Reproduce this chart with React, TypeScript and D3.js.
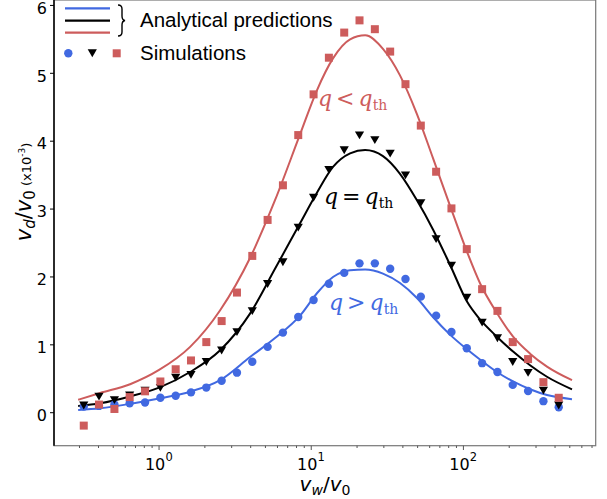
import React from "react";
import * as d3 from "d3";

// simulation abscissae (v_w / v_0)
const simX = [
  0.32, 0.403, 0.509, 0.641, 0.809, 1.02, 1.286, 1.621, 2.044, 2.578, 3.25,
  4.098, 5.167, 6.515, 8.215, 10.36, 13.06, 16.47, 20.76, 26.18, 33.01, 41.62,
  52.48, 66.17, 83.43, 105.2, 132.7, 167.3, 210.9, 266.0, 335.4, 422.9,
];
const simBlue = [
  0.09, 0.1, 0.12, 0.14, 0.15, 0.22, 0.25, 0.3, 0.37, 0.47, 0.59, 0.75, 0.97,
  1.18, 1.41, 1.66, 1.9, 2.06, 2.2, 2.2, 2.12, 1.97, 1.71, 1.43, 1.19, 0.95,
  0.73, 0.6, 0.41, 0.32, 0.17, 0.08,
];
const simBlack = [
  0.11, 0.24, 0.19, 0.26, 0.33, 0.37, 0.52, 0.56, 0.75, 0.92, 1.19, 1.5, 1.9,
  2.22, 2.73, 3.17, 3.58, 3.87, 4.09, 4.02, 3.82, 3.5, 3.09, 2.56, 2.17, 1.7,
  1.33, 1.1, 0.75, 0.59, 0.33, 0.11,
];
const simRed = [
  -0.19, 0.12, 0.055, 0.23, 0.315, 0.46, 0.64, 0.77, 1.04, 1.35, 1.77, 2.31,
  2.84, 3.35, 4.09, 4.69, 5.23, 5.6, 5.78, 5.65, 5.32, 4.84, 4.23, 3.55, 3.01,
  2.41, 1.82, 1.5, 1.04, 0.79, 0.45, 0.22,
];

// analytical curves
const fitX = [
  0.294, 0.41, 0.645, 1.0, 1.6, 2.52, 3.96, 5.78, 8.44, 10.9, 13.9, 18.0, 22.6,
  29.6, 38.3, 49.5, 63.1, 81.6, 106, 129, 166, 212, 274, 354, 517,
];
const fitBlue = [
  0.04, 0.065, 0.13, 0.21, 0.31, 0.48, 0.82, 1.1, 1.43, 1.76, 2.0, 2.1, 2.11,
  2.05, 1.91, 1.69, 1.41, 1.15, 0.93, 0.78, 0.6, 0.46, 0.345, 0.26, 0.2,
];
const fitBlack = [
  0.1, 0.14, 0.24, 0.37, 0.6, 0.92, 1.46, 2.12, 2.79, 3.24, 3.62, 3.82, 3.87,
  3.78, 3.52, 3.13, 2.7, 2.18, 1.63, 1.37, 1.12, 0.9, 0.7, 0.53, 0.345,
];
const fitRed = [
  0.19, 0.29, 0.42, 0.63, 0.97, 1.51, 2.28, 3.13, 4.1, 4.75, 5.22, 5.5, 5.56,
  5.36, 4.97, 4.4, 3.75, 3.05, 2.36, 1.9, 1.47, 1.12, 0.87, 0.68, 0.48,
];

const yTicks = [0, 1, 2, 3, 4, 5, 6];
const xMajor = [1, 10, 100];
const xLabels = ["0", "1", "2"];

const BLUE = "#4169e1";
const RED = "#cd5c5c";

export default function App() {
  const width = 607;
  const height = 499;
  const x = d3.scaleLog().domain([0.204, 740]).range([54, 595.7]);
  const y = d3.scaleLinear().domain([-0.486, 6.08]).range([445.7, 0]);

  const line = d3
    .line<number>()
    .x((_, i) => x(fitX[i]))
    .y((d) => y(d))
    .curve(d3.curveMonotoneX);

  // minor ticks 2..9 of each decade inside the domain
  const minor: number[] = [];
  [0.1, 1, 10, 100].forEach((dec) => {
    for (let k = 2; k <= 9; k++) {
      const v = dec * k;
      if (v > 0.204 && v < 740) minor.push(v);
    }
  });

  const tri = (cx: number, cy: number, s: number) =>
    `M${cx - s},${cy - s * 0.8}L${cx + s},${cy - s * 0.8}L${cx},${cy + s * 0.9}Z`;

  const font = "DejaVu Sans, sans-serif";
  const serif = "DejaVu Serif, serif";
  const sans = "Liberation Sans, Arial, sans-serif";

  return (
    <svg
      width={width}
      height={height}
      style={{ position: "absolute", left: 0, top: 0, background: "#fff" }}
    >
      {/* frame */}
      <rect x={54} y={0} width={541.7} height={445.7} fill="none" stroke="#777" strokeWidth={1.2} />
      <line x1={54} x2={54} y1={0} y2={445.7} stroke="#000" strokeWidth={1.5} />

      {/* y axis */}
      {yTicks.map((t) => (
        <g key={t}>
          <line x1={50} x2={54} y1={y(t)} y2={y(t)} stroke="#000" strokeWidth={1} />
          <text x={47} y={y(t) + 2.5} dy="0.36em" textAnchor="end" fontFamily={font} fontSize={16}>
            {t}
          </text>
        </g>
      ))}

      {/* x axis */}
      {minor.map((v) => (
        <line key={v} x1={x(v)} x2={x(v)} y1={445.7} y2={448} stroke="#555" strokeWidth={1} />
      ))}
      {xMajor.map((v, i) => (
        <g key={v}>
          <line x1={x(v)} x2={x(v)} y1={445.7} y2={450} stroke="#555" strokeWidth={1} />
          <text x={x(v) - 4} y={470} textAnchor="middle" fontFamily={font} fontSize={16}>
            10
          </text>
          <text x={x(v) + 10} y={461} textAnchor="middle" fontFamily={font} fontSize={11.5}>
            {xLabels[i]}
          </text>
        </g>
      ))}

      {/* axis labels */}
      <text x={325} y={491} textAnchor="middle" fontFamily={font} fontSize={20}>
        <tspan fontStyle="italic">v</tspan>
        <tspan fontStyle="italic" fontSize={14} dy={4}>w</tspan>
        <tspan dy={-4}>/</tspan>
        <tspan fontStyle="italic">v</tspan>
        <tspan fontSize={14} dy={4}>0</tspan>
      </text>
      <text
        transform="translate(31,192) rotate(-90)"
        textAnchor="middle"
        fontFamily={font}
        fontSize={21}
      >
        <tspan fontStyle="italic">v</tspan>
        <tspan fontStyle="italic" fontSize={15} dy={4}>d</tspan>
        <tspan dy={-4}>/</tspan>
        <tspan fontStyle="italic">v</tspan>
        <tspan fontSize={15} dy={4}>0</tspan>
        <tspan fontSize={13} dy={-4}> (x10</tspan>
        <tspan fontSize={9} dy={-6}>-3</tspan>
        <tspan fontSize={13} dy={6}>)</tspan>
      </text>

      {/* analytical curves */}
      <path d={line(fitRed) ?? ""} fill="none" stroke={RED} strokeWidth={2} />
      <path d={line(fitBlack) ?? ""} fill="none" stroke="#000" strokeWidth={2} />
      <path d={line(fitBlue) ?? ""} fill="none" stroke={BLUE} strokeWidth={2} />

      {/* simulations */}
      {simBlue.map((d, i) => (
        <circle key={"b" + i} cx={x(simX[i])} cy={y(d)} r={4.2} fill={BLUE} />
      ))}
      {simBlack.map((d, i) => (
        <path key={"k" + i} d={tri(x(simX[i]), y(d), 4.6)} fill="#000" />
      ))}
      {simRed.map((d, i) => (
        <rect key={"r" + i} x={x(simX[i]) - 4} y={y(d) - 4} width={8} height={8} fill={RED} />
      ))}

      {/* annotations */}
      <text x={318} y={106} fontFamily={serif} fontSize={22} fill={RED}>
        <tspan fontStyle="italic">q</tspan>
        <tspan dx={4}>&lt;</tspan>
        <tspan dx={4} fontStyle="italic">q</tspan>
        <tspan fontSize={14} dy={4}>th</tspan>
      </text>
      <text x={324} y={204} fontFamily={serif} fontSize={22} fill="#000">
        <tspan fontStyle="italic">q</tspan>
        <tspan dx={4}>=</tspan>
        <tspan dx={4} fontStyle="italic">q</tspan>
        <tspan fontSize={14} dy={4}>th</tspan>
      </text>
      <text x={329} y={310} fontFamily={serif} fontSize={22} fill={BLUE}>
        <tspan fontStyle="italic">q</tspan>
        <tspan dx={4}>&gt;</tspan>
        <tspan dx={4} fontStyle="italic">q</tspan>
        <tspan fontSize={14} dy={4}>th</tspan>
      </text>

      {/* legend */}
      <line x1={65} x2={110} y1={8.3} y2={8.3} stroke={BLUE} strokeWidth={2.2} />
      <line x1={65} x2={110} y1={20.7} y2={20.7} stroke="#000" strokeWidth={2.2} />
      <line x1={65} x2={110} y1={32.7} y2={32.7} stroke={RED} strokeWidth={2.2} />
      <path
        d="M118,5 Q122,5 122,9 L122,16 Q122,20 125,20.5 Q122,21 122,25 L122,32 Q122,36 118,36"
        fill="none"
        stroke="#000"
        strokeWidth={1.4}
      />
      <text x={140} y={27} fontFamily={sans} fontSize={20.5}>
        Analytical predictions
      </text>
      <circle cx={68.3} cy={53.3} r={4.2} fill={BLUE} />
      <path d={tri(92.3, 53, 4.6)} fill="#000" />
      <rect x={112.7} y={49.3} width={8} height={8} fill={RED} />
      <text x={140} y={60} fontFamily={sans} fontSize={20.5}>
        Simulations
      </text>
    </svg>
  );
}
